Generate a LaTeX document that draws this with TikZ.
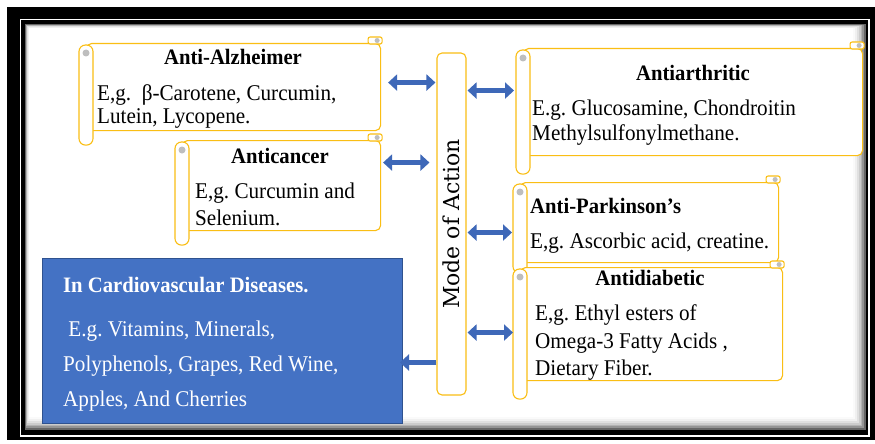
\documentclass[tikz,border=0pt]{standalone}
\usepackage{fontspec}
\setmainfont{Liberation Serif}[FakeStretch=0.94]
\newfontfamily\slabfont{DejaVu Serif}
\usepackage{tikz}
\usetikzlibrary{arrows.meta,calc}
\usepackage{xcolor}
\definecolor{scrollgold}{RGB}{250,190,20}
\definecolor{curlgray}{RGB}{190,190,190}
\definecolor{cvdblue}{RGB}{68,114,196}
\definecolor{cvdedge}{RGB}{47,82,143}
\definecolor{arrowblue}{RGB}{62,104,184}
\frenchspacing

\newcommand{\bodysize}[1]{\fontsize{22.5}{#1}\selectfont}
% rolled parts of a scroll: left tube and top right curl
\newcommand{\scrollrolls}[2][14]{%
  \draw[scrollline, fill=white, rounded corners=6.5pt] ([shift={(-7,2)}]#2.north west) rectangle ([shift={(7,#1)}]#2.south west);
  \fill[curlgray] ([shift={(0,10)}]#2.north west) circle[radius=3.5];
  \draw[scrollline, fill=white, rounded corners=2pt] ([shift={(-13,-6)}]#2.north east) rectangle ([shift={(1,1)}]#2.north east);
  \fill[curlgray] ([shift={(-4,-2.5)}]#2.north east) circle[radius=2.5];
}

\begin{document}
\begin{tikzpicture}[
    x=1pt, y=-1pt,
    scroll/.style={rectangle, draw=scrollgold, line width=1.1pt, fill=white,
        rounded corners=5pt, anchor=north west, inner sep=0pt},
    scrollline/.style={draw=scrollgold, line width=1.1pt},
    modebox/.style={rectangle, draw=scrollgold, line width=1.1pt, fill=white,
        rounded corners=5pt, inner sep=0pt},
    cvdbox/.style={rectangle, draw=cvdedge, line width=1pt, fill=cvdblue,
        anchor=north west, inner sep=0pt},
    titletext/.style={font=\fontsize{22}{26}\selectfont\bfseries, inner sep=0pt},
    bodytext/.style={font=\bodysize{25}, align=left, anchor=west, inner sep=0pt},
    dblarrow/.style={{Triangle[width=16pt,length=9pt]}-{Triangle[width=16pt,length=9pt]},
        line width=5.5pt, draw=arrowblue, fill=arrowblue},
    sglarrow/.style={-{Triangle[width=16pt,length=9pt]},
        line width=5.5pt, draw=arrowblue, fill=arrowblue}
]
    \useasboundingbox (0,0) rectangle (875,444);
    \fill[white] (0,0) rectangle (875,444);

    % frame and shaded panel
    \fill[black] (7,7) rectangle (875,440);
    \draw[white, line width=1.2pt] (20.5,19.5) rectangle (869,436);
    \foreach \i/\s in {0/60,1/42,2/30,3/20,4/12,5/6,6/2,7/0}
        \fill[black!\s] (25+0.6*\i,24+0.6*\i) rectangle (866-1.8*\i,430-1.8*\i);

    % scrolls
    \node[scroll, minimum width=294pt, minimum height=87pt] (alz) at (86,43) {};
    \scrollrolls{alz}
    \node[scroll, minimum width=198pt, minimum height=90pt] (canc) at (182,140) {};
    \scrollrolls{canc}
    \node[scroll, minimum width=339pt, minimum height=107pt] (arth) at (523,48) {};
    \scrollrolls[18]{arth}
    \node[scroll, minimum width=258pt, minimum height=80pt] (park) at (520,182) {};
    \scrollrolls[10]{park}
    \node[scroll, minimum width=262pt, minimum height=113pt] (diab) at (520,267) {};
    \scrollrolls[18]{diab}

    \node[modebox, minimum width=29pt, minimum height=342pt] (mode) at (451.5,224) {};
    \node[rotate=90, font=\slabfont\fontsize{22}{26}\selectfont] (modetext) at (mode.center) {Mode of Action};

    \node[cvdbox, minimum width=360pt, minimum height=165pt] (cvd) at (42,258) {};

    % texts
    \node[titletext] (alztitle) at (233,57) {Anti-Alzheimer};
    \node[bodytext, font=\bodysize{23}] (alzbody) at (97,107) {E,g.\ \ β-Carotene, Curcumin,\\Lutein, Lycopene.};
    \node[titletext] (canctitle) at (280,156) {Anticancer};
    \node[bodytext, font=\bodysize{27}] (cancbody) at (195,204) {E,g. Curcumin and\\Selenium.};
    \node[titletext] (arthtitle) at (693,73) {Antiarthritic};
    \node[bodytext] (arthbody) at (532,123) {E.g. Glucosamine, Chondroitin\\Methylsulfonylmethane.};
    \node[titletext, anchor=west] (parktitle) at (530,206) {Anti-Parkinson’s};
    \node[bodytext] (parkbody) at (530,243) {E,g. Ascorbic acid, creatine.};
    \node[titletext] (diabtitle) at (650,278) {Antidiabetic};
    \node[bodytext, font=\bodysize{27.5}] (diabbody) at (535,343) {E,g. Ethyl esters of\\Omega-3 Fatty Acids ,\\Dietary Fiber.};
    \node[titletext, text=white, anchor=west] (cvdtitle) at (63,285) {In Cardiovascular Diseases.};
    \node[bodytext, text=white, font=\bodysize{35}] (cvdbody) at (63,366) {\ E.g. Vitamins, Minerals,\\Polyphenols, Grapes, Red Wine,\\Apples, And Cherries};

    % arrows
    \draw[dblarrow] ([shift={(7,-4.5)}]alz.east) -- ([shift={(-1,-4.5)}]alz.east -| mode.west);
    \draw[dblarrow] ([shift={(2,-23)}]canc.east) -- ([shift={(-7,-23)}]canc.east -| mode.west);
    \draw[dblarrow] ([shift={(1,-11.5)}]arth.west -| mode.east) -- ([shift={(-9,-11.5)}]arth.west);
    \draw[dblarrow] ([shift={(1,10)}]park.west -| mode.east) -- ([shift={(-8,10)}]park.west);
    \draw[dblarrow] ([shift={(1,8.5)}]diab.west -| mode.east) -- ([shift={(-7,8.5)}]diab.west);
    \draw[sglarrow] ([shift={(0,21.5)}]cvd.east -| mode.west) -- ([shift={(-3,21.5)}]cvd.east);
\end{tikzpicture}
\end{document}
